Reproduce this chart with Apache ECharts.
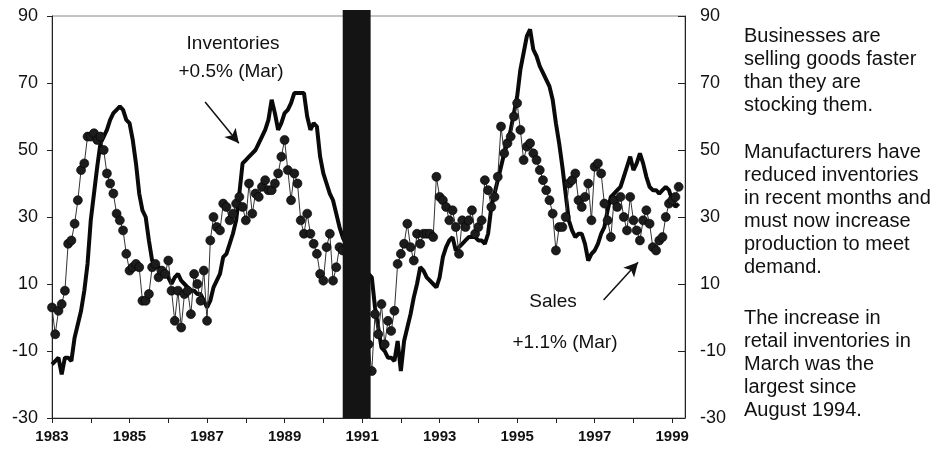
<!DOCTYPE html>
<html>
<head>
<meta charset="utf-8">
<script src="https://cdn.jsdelivr.net/npm/echarts@6/dist/echarts.min.js"></script>
<style>
  html, body { margin: 0; padding: 0; background: #fff; }
  #chart { width: 937px; height: 451px; }
</style>
</head>
<body>
<div id="chart"></div>
<script>
// monthly series, Jan 1983 .. Mar 1999
var startYear = 1983;

var sales = [
    3, -5, 2, 4, 8, 22, 23, 28, 35, 44, 46, 54,          // 1983
    54, 55, 53, 54, 50, 43, 40, 37, 31, 29, 26, 19,      // 1984
    14, 15, 16, 15, 5, 5, 7, 15, 16, 12, 14, 13,         // 1985
    17, 8, -1, 8, -3, 7, 8, 1, 13, 10, 5, 14,            // 1986
    -1, 23, 30, 27, 26, 34, 33, 29, 31, 34, 36, 33,      // 1987
    29, 40, 31, 37, 36, 39, 41, 38, 38, 40, 43, 48,      // 1988
    53, 44, 35, 43, 40, 29, 25, 31, 25, 22, 19, 13,      // 1989
    11, 21, 25, 11, 15, 21, 20, 24, 27, 28, 20, 17,      // 1990
    5, 0, -8, -16, 1, -5, 4, -8, -1, -4, 2, 16,          // 1991
    19, 22, 28, 21, 17, 25, 22, 25, 25, 25, 24, 42,      // 1992
    36, 35, 33, 29, 32, 27, 19, 29, 27, 29, 32, 25,      // 1993
    27, 29, 41, 38, 33, 36, 42, 57, 49, 52, 54, 60,      // 1994
    64, 56, 47, 51, 52, 49, 47, 44, 41, 38, 35, 31,      // 1995
    20, 27, 27, 30, 40, 41, 43, 35, 33, 36, 40, 29,      // 1996
    45, 46, 43, 34, 29, 24, 35, 33, 36, 30, 26, 36,      // 1997
    29, 26, 23, 29, 32, 28, 21, 20, 23, 24, 30, 34,      // 1998
    35, 36, 39                                           // 1999
];

var inventories = [
    -14, -13, -12, -17, -12, -12, -13, -6, -2, 2, 8, 16, // 1983
    29, 37, 45, 52, 54, 56, 59, 61, 62, 63, 62, 59,      // 1984
    58, 53, 46, 37, 32, 30, 23, 17, 16, 15, 14, 13,      // 1985
    12, 10, 12, 13, 11, 10, 9, 8, 8, 7, 7, 5,            // 1986
    3, 5, 9, 11, 13, 18, 19, 22, 25, 29, 37, 46,         // 1987
    47, 48, 49, 50, 52, 54, 56, 59, 65, 61, 56, 58,      // 1988
    61, 62, 64, 67, 67, 67, 67, 60, 56, 58, 57, 48,      // 1989
    43, 40, 37, 35, 31, 27, 24, 22, 20, 19, 17, 16,      // 1990
    15, 14, 13, 12, 3, -3, -9, -10, -12, -12, -13, -7,   // 1991
    -16, -7, -3, 1, 6, 10, 15, 14, 12, 11, 10, 9,        // 1992
    12, 18, 21, 23, 24, 20, 21, 22, 23, 24, 24, 24,      // 1993
    23, 23, 22, 25, 33, 37, 41, 45, 49, 52, 56, 61,      // 1994
    66, 74, 79, 84, 86, 80, 78, 75, 73, 71, 69, 65,      // 1995
    58, 52, 45, 37, 29, 26, 24, 25, 25, 22, 17, 19,      // 1996
    20, 22, 25, 27, 32, 36, 37, 38, 39, 42, 45, 48,      // 1997
    44, 46, 49, 46, 42, 39, 38, 38, 37, 38, 39, 38,      // 1998
    35, 33, 34                                           // 1999
];

var yearLabels = [1983, 1985, 1987, 1989, 1991, 1993, 1995, 1997, 1999];
var yTicks = [-30, -10, 10, 30, 50, 70, 90];
var recession = [1990.5, 1991.22];

var FONT = '"Liberation Sans", Arial, Helvetica, sans-serif';

function toPairs(arr) {
    var out = [];
    for (var i = 0; i < arr.length; i++) {
        out.push([startYear + i / 12, arr[i]]);
    }
    return out;
}

var chart = echarts.init(document.getElementById('chart'), null, {renderer: 'canvas'});

function yAxisOpt(pos) {
    return {
        type: 'value',
        position: pos,
        min: yTicks[0],
        max: yTicks[yTicks.length - 1],
        interval: 20,
        splitLine: {show: false},
        axisLine: {show: true, onZero: false, lineStyle: {color: '#222', width: 1}},
        axisTick: pos === 'left'
            ? {show: true, length: 5, lineStyle: {color: '#222'}}
            : {show: true, inside: true, length: 7, lineStyle: {color: '#222'}},
        axisLabel: {color: '#111', fontFamily: FONT, fontSize: 18, margin: pos === 'left' ? 14 : 15}
    };
}

var option = {
    animation: false,
    backgroundColor: '#fff',
    grid: {
        left: 52, right: 252, top: 16, bottom: 33,
        show: true, borderColor: '#888', borderWidth: 1
    },
    xAxis: {
        type: 'value',
        min: 1983,
        max: 1999.33,
        interval: 1,
        splitLine: {show: false},
        axisLine: {show: true, onZero: false, lineStyle: {color: '#222', width: 1}},
        axisTick: {show: true, length: 5, lineStyle: {color: '#222'}},
        axisLabel: {
            color: '#111', fontFamily: FONT, fontSize: 15, fontWeight: 'bold', margin: 11,
            showMaxLabel: false,
            formatter: function (v) {
                return yearLabels.indexOf(v) >= 0 ? String(v) : '';
            }
        }
    },
    yAxis: [yAxisOpt('left'), yAxisOpt('right')],
    series: [
        {
            name: 'Inventories',
            type: 'line',
            z: 2,
            data: toPairs(inventories),
            showSymbol: false,
            lineStyle: {color: '#0a0a0a', width: 4},
            markLine: {
                silent: true,
                symbol: ['none', 'arrow'],
                symbolSize: [11, 14],
                label: {show: false},
                lineStyle: {color: '#111', width: 1.5, type: 'solid'},
                data: [
                    [{coord: [1986.95, 64.3]}, {coord: [1987.82, 52]}],
                    [{coord: [1997.23, 5.2]}, {coord: [1998.12, 16.5]}]
                ]
            }
        },
        {
            name: 'Sales',
            type: 'line',
            z: 3,
            data: toPairs(sales),
            symbol: 'circle',
            symbolSize: 9,
            showAllSymbol: true,
            lineStyle: {color: '#333', width: 1},
            itemStyle: {color: '#1c1c1c', borderColor: '#000', borderWidth: 0.6}
        },
        {
            name: 'Recession',
            type: 'custom',
            z: 10,
            silent: true,
            clip: false,
            encode: {x: [0, 1], y: 2},
            data: [[recession[0], recession[1], yTicks[0]]],
            renderItem: function (params, api) {
                var top = api.coord([api.value(0), yTicks[yTicks.length - 1]]);
                var bot = api.coord([api.value(1), yTicks[0]]);
                return {
                    type: 'rect',
                    shape: {x: top[0], y: top[1] - 6, width: bot[0] - top[0], height: bot[1] - top[1] + 6},
                    style: {fill: '#141414'}
                };
            }
        }
    ],
    graphic: [
        {type: 'text', x: 233, y: 44, style: {text: 'Inventories', font: '19px ' + FONT, fill: '#111', align: 'center', verticalAlign: 'middle'}},
        {type: 'text', x: 231, y: 72, style: {text: '+0.5% (Mar)', font: '19px ' + FONT, fill: '#111', align: 'center', verticalAlign: 'middle'}},
        {type: 'text', x: 553, y: 302, style: {text: 'Sales', font: '19px ' + FONT, fill: '#111', align: 'center', verticalAlign: 'middle'}},
        {type: 'text', x: 565, y: 343, style: {text: '+1.1% (Mar)', font: '19px ' + FONT, fill: '#111', align: 'center', verticalAlign: 'middle'}},
        {type: 'text', x: 744, y: 25, style: {
            text: 'Businesses are\nselling goods faster\nthan they are\nstocking them.',
            font: '20px ' + FONT, lineHeight: 23, fill: '#111'}},
        {type: 'text', x: 744, y: 141, style: {
            text: 'Manufacturers have\nreduced inventories\nin recent months and\nmust now increase\nproduction to meet\ndemand.',
            font: '20px ' + FONT, lineHeight: 23, fill: '#111'}},
        {type: 'text', x: 744, y: 307, style: {
            text: 'The increase in\nretail inventories in\nMarch was the\nlargest since\nAugust 1994.',
            font: '20px ' + FONT, lineHeight: 23, fill: '#111'}}
    ]
};

chart.setOption(option);
</script>
</body>
</html>
